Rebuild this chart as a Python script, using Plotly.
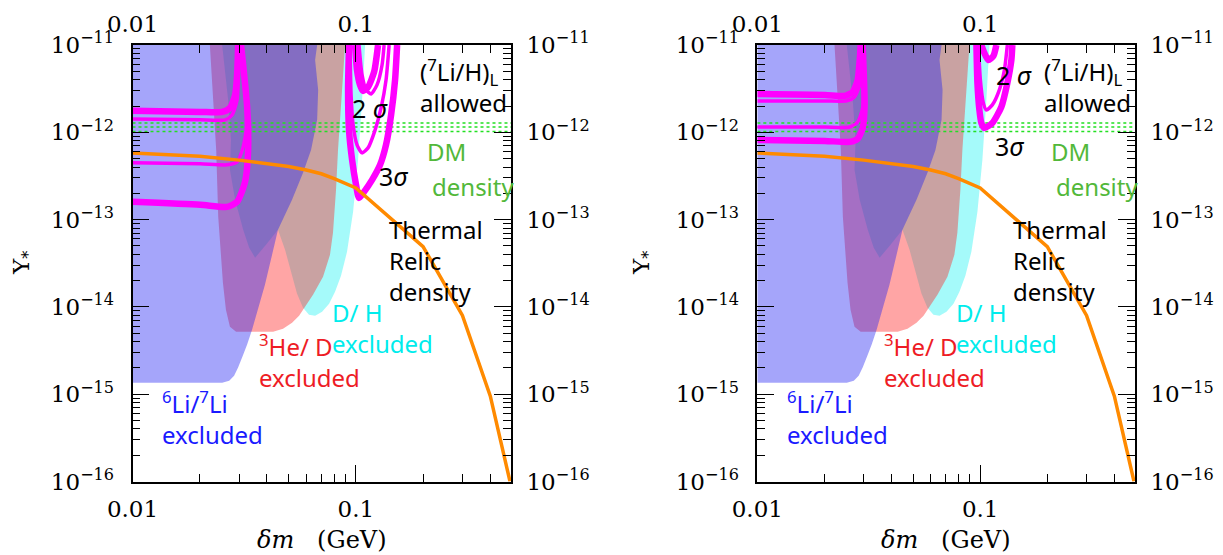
import numpy as np
import plotly.graph_objects as go

# ---------------- axis extent and ticks ----------------
X_RANGE = [0.01, 0.495]          # delta m (GeV)
Y_RANGE = [1e-16, 1e-11]         # yield Y_*

x_major = [0.01, 0.1]
x_major_text = ["0.01", "0.1"]
x_minor = [0.02, 0.03, 0.04, 0.05, 0.06, 0.07, 0.08, 0.09, 0.2, 0.3, 0.4]

y_major = [1e-16, 1e-15, 1e-14, 1e-13, 1e-12, 1e-11]
y_major_text = ["10<sup>−16</sup>", "10<sup>−15</sup>", "10<sup>−14</sup>",
                "10<sup>−13</sup>", "10<sup>−12</sup>", "10<sup>−11</sup>"]
y_minor = [m * d for d in y_major[:-1] for m in range(2, 10)]

# ---------------- excluded regions (same in both panels) ----------------
# D/H excluded
dh_x = [0.0252, 0.0268, 0.0276, 0.0273, 0.0288, 0.0313, 0.0333, 0.0354, 0.0396,
        0.0448, 0.0482, 0.0513, 0.0545, 0.0580, 0.0617, 0.0657, 0.0706, 0.0759,
        0.0807, 0.0858, 0.0913, 0.0972, 0.1023, 0.1066, 0.1100]
dh_y = [1e-11, 2.35e-12, 8.18e-13, 3.72e-13, 1.69e-13, 7.64e-14, 4.75e-14, 3.66e-14,
        5.15e-14, 7.64e-14, 4.51e-14, 2.53e-14, 1.42e-14, 9.80e-15, 8.15e-15, 7.93e-15,
        8.81e-15, 1.09e-14, 1.49e-14, 2.28e-14, 4.28e-14, 1.23e-13, 4.83e-13, 2.35e-12, 1e-11]

# 3He/D excluded
he3_x = [0.0222, 0.0229, 0.0237, 0.0242, 0.0249, 0.0254, 0.0262, 0.0273, 0.0291,
         0.0426, 0.0472, 0.0518, 0.0557, 0.0580, 0.0643, 0.0713, 0.0766, 0.0790,
         0.0815, 0.0832, 0.0867, 0.0895]
he3_y = [1e-11, 2.35e-12, 6.29e-13, 1.08e-13, 3.47e-14, 1.89e-14, 9.29e-15, 5.93e-15,
         5.20e-15, 5.20e-15, 5.63e-15, 6.60e-15, 7.93e-15, 9.29e-15, 1.38e-14, 2.22e-14,
         3.95e-14, 7.06e-14, 2.19e-13, 6.29e-13, 3.06e-12, 1e-11]

# 6Li/7Li excluded
li6_x = [0.01, 0.01, 0.0252, 0.0271, 0.0285, 0.0297, 0.0313, 0.0326, 0.0343, 0.0392,
         0.0448, 0.0518, 0.0580, 0.0630, 0.0671, 0.0678, 0.0657, 0.0671]
li6_y = [1e-11, 1.35e-15, 1.35e-15, 1.43e-15, 1.63e-15, 2.02e-15, 2.84e-15, 3.70e-15,
         5.49e-15, 1.80e-14, 7.64e-14, 1.69e-13, 3.43e-13, 6.29e-13, 1.39e-12, 3.06e-12,
         6.73e-12, 1e-11]

# DM density band (dotted)
dm_band_x = [0.01, 0.495]
dm_band_levels = [1.02e-12, 1.15e-12, 1.28e-12]

# thermal relic density
relic_x = [0.01, 0.02, 0.03, 0.04, 0.05, 0.06, 0.07, 0.08, 0.09, 0.1, 0.2, 0.3, 0.4, 0.49]
relic_y = [5.8e-13, 5.3e-13, 4.8e-13, 4.4e-13, 4.05e-13, 3.7e-13, 3.35e-13, 2.95e-13,
           2.6e-13, 2.3e-13, 4.9e-14, 8.0e-15, 9.5e-16, 1.0e-16]

# ---------------- (7Li/H)_L allowed contours, left panel ----------------
L_a_x = [0.01, 0.0201, 0.0252, 0.0273, 0.0288, 0.0294, 0.0297]
L_a_y = [1.76e-12, 1.71e-12, 1.71e-12, 1.90e-12, 2.68e-12, 4.54e-12, 1e-11]
L_b_x = [0.01, 0.0201, 0.0260, 0.0279, 0.0294, 0.0297, 0.0297]
L_b_y = [1.42e-12, 1.39e-12, 1.39e-12, 1.58e-12, 2.35e-12, 3.98e-12, 1e-11]
L_c_x = [0.01, 0.0201, 0.0265, 0.0294, 0.0313, 0.0326, 0.0319, 0.0309, 0.0306]
L_c_y = [4.47e-13, 4.35e-13, 4.24e-13, 4.58e-13, 6.81e-13, 1.28e-12, 3.06e-12, 7.29e-12, 1e-11]
L_d_x = [0.01, 0.0201, 0.0265, 0.0294, 0.0319, 0.0329, 0.0326, 0.0313, 0.0306]
L_d_y = [1.60e-13, 1.48e-13, 1.40e-13, 1.60e-13, 2.70e-13, 5.81e-13, 1.95e-12, 5.90e-12, 1e-11]
L_e_x = [0.0932, 0.0923, 0.0932, 0.0962, 0.1002, 0.1033, 0.1088, 0.1182, 0.1284, 0.1365,
         0.1438, 0.1498, 0.1530]
L_e_y = [1e-11, 3.06e-12, 1.06e-12, 4.83e-13, 2.50e-13, 1.77e-13, 2.08e-13, 2.85e-13,
         4.24e-13, 7.18e-13, 1.58e-12, 3.98e-12, 1e-11]
L_f_x = [0.0942, 0.0952, 0.0972, 0.1012, 0.1066, 0.1134, 0.1219, 0.1297, 0.1365, 0.1409]
L_f_y = [1e-11, 2.68e-12, 1.22e-12, 7.18e-13, 5.81e-13, 6.63e-13, 1.06e-12, 1.90e-12,
         3.98e-12, 1e-11]
L_g_x = [0.0992, 0.1012, 0.1044, 0.1077, 0.1134, 0.1207, 0.1257]
L_g_y = [1e-11, 5.17e-12, 3.49e-12, 2.98e-12, 3.30e-12, 4.91e-12, 1e-11]
L_h_x = [0.1033, 0.1066, 0.1111, 0.1170, 0.1244, 0.1310, 0.1338]
L_h_y = [1e-11, 4.54e-12, 3.06e-12, 2.75e-12, 3.49e-12, 5.90e-12, 1e-11]

# ---------------- (7Li/H)_L allowed contours, right panel ----------------
R_a_x = [0.01, 0.0201, 0.0247, 0.0268, 0.0282, 0.0288, 0.0291]
R_a_y = [2.75e-12, 2.68e-12, 2.61e-12, 2.90e-12, 3.98e-12, 6.73e-12, 1e-11]
R_b_x = [0.01, 0.0201, 0.0252, 0.0273, 0.0288, 0.0294]
R_b_y = [2.29e-12, 2.29e-12, 2.29e-12, 2.54e-12, 3.49e-12, 1e-11]
R_c_x = [0.01, 0.0201, 0.0260, 0.0282, 0.0297, 0.0300, 0.0297]
R_c_y = [1.15e-12, 1.15e-12, 1.15e-12, 1.31e-12, 1.90e-12, 3.49e-12, 1e-11]
R_d_x = [0.01, 0.0201, 0.0260, 0.0282, 0.0297, 0.0303, 0.0300, 0.0297]
R_d_y = [8.18e-13, 7.97e-13, 7.77e-13, 8.40e-13, 1.12e-12, 2.06e-12, 5.17e-12, 1e-11]
R_e_x = [0.0962, 0.0972, 0.0992, 0.1012, 0.1044, 0.1134, 0.1244, 0.1324, 0.1380, 0.1394]
R_e_y = [1e-11, 3.67e-12, 1.80e-12, 1.28e-12, 1.12e-12, 1.28e-12, 1.95e-12, 3.67e-12,
         6.73e-12, 1e-11]
R_f_x = [0.0982, 0.1002, 0.1033, 0.1066, 0.1134, 0.1219, 0.1284, 0.1324]
R_f_y = [1e-11, 3.98e-12, 2.17e-12, 1.80e-12, 2.06e-12, 3.06e-12, 5.17e-12, 1e-11]
R_g_x = [0.1012, 0.1044, 0.1088, 0.1146, 0.1182]
R_g_y = [1e-11, 8.10e-12, 6.73e-12, 7.48e-12, 1e-11]

THICK, THIN = 6.5, 3.5
left_contours = [(L_a_x, L_a_y, THICK), (L_b_x, L_b_y, THIN), (L_c_x, L_c_y, THIN),
                 (L_d_x, L_d_y, THICK), (L_e_x, L_e_y, THICK), (L_f_x, L_f_y, THIN),
                 (L_g_x, L_g_y, THICK), (L_h_x, L_h_y, THIN)]
right_contours = [(R_a_x, R_a_y, THICK), (R_b_x, R_b_y, THIN), (R_c_x, R_c_y, THIN),
                  (R_d_x, R_d_y, THICK), (R_e_x, R_e_y, THICK), (R_f_x, R_f_y, THIN),
                  (R_g_x, R_g_y, THICK)]

# label anchor points (left edge, vertical centre) in data units
sigma2_left, sigma3_left = (0.0942, 1.90e-12), (0.1244, 3.17e-13)
sigma2_right, sigma3_right = (0.1150, 4.54e-12), (0.1146, 6.98e-13)

# ---------------- styling ----------------
C_CYAN = "rgba(30,242,242,0.4)"
C_RED = "rgba(255,30,30,0.4)"
C_BLUE = "rgba(30,30,242,0.4)"
MAGENTA = "#ff00ff"
ORANGE = "#ff8a00"
DOTGREEN = "#22e022"
TXT_BLUE, TXT_RED, TXT_CYAN, TXT_GREEN = "#1a1aff", "#ee1c25", "#00ecec", "#52b83a"
SANS = "Noto Sans"
SERIF = "DejaVu Serif"
tick_font = dict(family=SERIF, size=23, color="black")

fig = go.Figure()


def add_panel(xa, ya, xo, yo, contours, s2, s3):
    kw = dict(xaxis=xa, yaxis=ya, showlegend=False, hoverinfo="skip")
    for xs, ys, col in [(dh_x, dh_y, C_CYAN), (he3_x, he3_y, C_RED), (li6_x, li6_y, C_BLUE)]:
        fig.add_trace(go.Scatter(x=xs, y=ys, fill="toself", fillcolor=col,
                                 mode="lines", line=dict(width=0), **kw))
    for lev in dm_band_levels:
        fig.add_trace(go.Scatter(x=dm_band_x, y=[lev, lev], mode="lines",
                                 line=dict(color=DOTGREEN, width=1.6, dash="dot"), **kw))
    for xs, ys, w in contours:
        fig.add_trace(go.Scatter(x=xs, y=ys, mode="lines",
                                 line=dict(color=MAGENTA, width=w, shape="spline",
                                           smoothing=0.6), **kw))
    fig.add_trace(go.Scatter(x=relic_x, y=relic_y, mode="lines",
                             line=dict(color=ORANGE, width=3.5), **kw))
    # companion axes (top / right) carrying the mirrored labels
    fig.add_trace(go.Scatter(x=[0.05], y=[1e-13], xaxis=xo, yaxis=yo, mode="markers",
                             marker=dict(opacity=0), showlegend=False, hoverinfo="skip"))

    def label(text, x, y, color, size=24, font=SANS):
        fig.add_annotation(x=np.log10(x), y=np.log10(y), xref=xa, yref=ya, text=text,
                           showarrow=False, xanchor="left", yanchor="middle", align="left",
                           font=dict(family=font, size=size, color=color))

    label("(<sup>7</sup>Li/H)<sub>L</sub><br>allowed", 0.190, 3.40e-12, "black")
    label("2\u00a0<i>σ</i>", s2[0], s2[1], "black", size=25)
    label("3<i>σ</i>", s3[0], s3[1], "black", size=25)
    label("DM", 0.2041, 5.97e-13, TXT_GREEN)
    label("density", 0.2149, 2.37e-13, TXT_GREEN)
    label("Thermal<br>Relic<br>density", 0.138, 3.38e-14, "black")
    label("D/ H<br>excluded", 0.0766, 5.78e-15, TXT_CYAN)
    label("<sup>3</sup>He/ D<br>excluded", 0.0361, 2.42e-15, TXT_RED)
    label("<sup>6</sup>Li/<sup>7</sup>Li<br>excluded", 0.0133, 5.4e-16, TXT_BLUE)


add_panel("x", "y", "x3", "y3", left_contours, sigma2_left, sigma3_left)
add_panel("x2", "y2", "x4", "y4", right_contours, sigma2_right, sigma3_right)


def xaxis_cfg(**extra):
    d = dict(type="log", range=[np.log10(X_RANGE[0]), np.log10(X_RANGE[1])],
             tickmode="array", tickvals=x_major, ticktext=x_major_text,
             ticks="inside", ticklen=17, tickwidth=1.2, tickcolor="black",
             minor=dict(tickmode="array", tickvals=x_minor, ticks="inside", ticklen=8,
                        tickwidth=1.2, tickcolor="black", showgrid=False),
             showline=True, linewidth=1.6, linecolor="black", showgrid=False,
             zeroline=False, tickfont=tick_font, ticklabelstandoff=6, automargin=False)
    d.update(extra)
    return d


def yaxis_cfg(**extra):
    d = dict(type="log", range=[np.log10(Y_RANGE[0]), np.log10(Y_RANGE[1])],
             tickmode="array", tickvals=y_major, ticktext=y_major_text,
             ticks="inside", ticklen=17, tickwidth=1.2, tickcolor="black",
             minor=dict(tickmode="array", tickvals=y_minor, ticks="inside", ticklen=8,
                        tickwidth=1.2, tickcolor="black", showgrid=False),
             showline=True, linewidth=1.6, linecolor="black", showgrid=False,
             zeroline=False, tickfont=tick_font, ticklabelstandoff=12, automargin=False)
    d.update(extra)
    return d


Y_DOM = [1 - 481.5 / 555, 1 - 45 / 555]
fig.update_layout(
    width=1223, height=555, margin=dict(l=0, r=0, t=0, b=0, autoexpand=False),
    paper_bgcolor="white", plot_bgcolor="white", showlegend=False,
    xaxis=xaxis_cfg(domain=[132.5 / 1223, 511 / 1223], anchor="y"),
    yaxis=yaxis_cfg(domain=Y_DOM, anchor="x"),
    xaxis3=xaxis_cfg(overlaying="x", side="top", anchor="y", ticklabelstandoff=2),
    yaxis3=yaxis_cfg(overlaying="y", side="right", anchor="x", ticklabelstandoff=9),
    xaxis2=xaxis_cfg(domain=[757.3 / 1223, 1135 / 1223], anchor="y2"),
    yaxis2=yaxis_cfg(domain=Y_DOM, anchor="x2"),
    xaxis4=xaxis_cfg(overlaying="x2", side="top", anchor="y2", ticklabelstandoff=2),
    yaxis4=yaxis_cfg(overlaying="y2", side="right", anchor="x2", ticklabelstandoff=9),
)

# axis titles
for cx, ty in [(322 / 1223, 23 / 1223), (946 / 1223, 643 / 1223)]:
    fig.add_annotation(x=cx, y=1 - 540 / 555, xref="paper", yref="paper",
                       text="<i>δm</i>\u00a0\u00a0\u00a0(GeV)", showarrow=False,
                       xanchor="center", yanchor="middle",
                       font=dict(family=SERIF, size=24, color="black"))
    fig.add_annotation(x=ty, y=1 - 263 / 555, xref="paper", yref="paper",
                       text="Y<sub>*</sub>", showarrow=False, textangle=-90,
                       xanchor="center", yanchor="middle",
                       font=dict(family=SERIF, size=23, color="black"))

fig.write_html("out.html")
